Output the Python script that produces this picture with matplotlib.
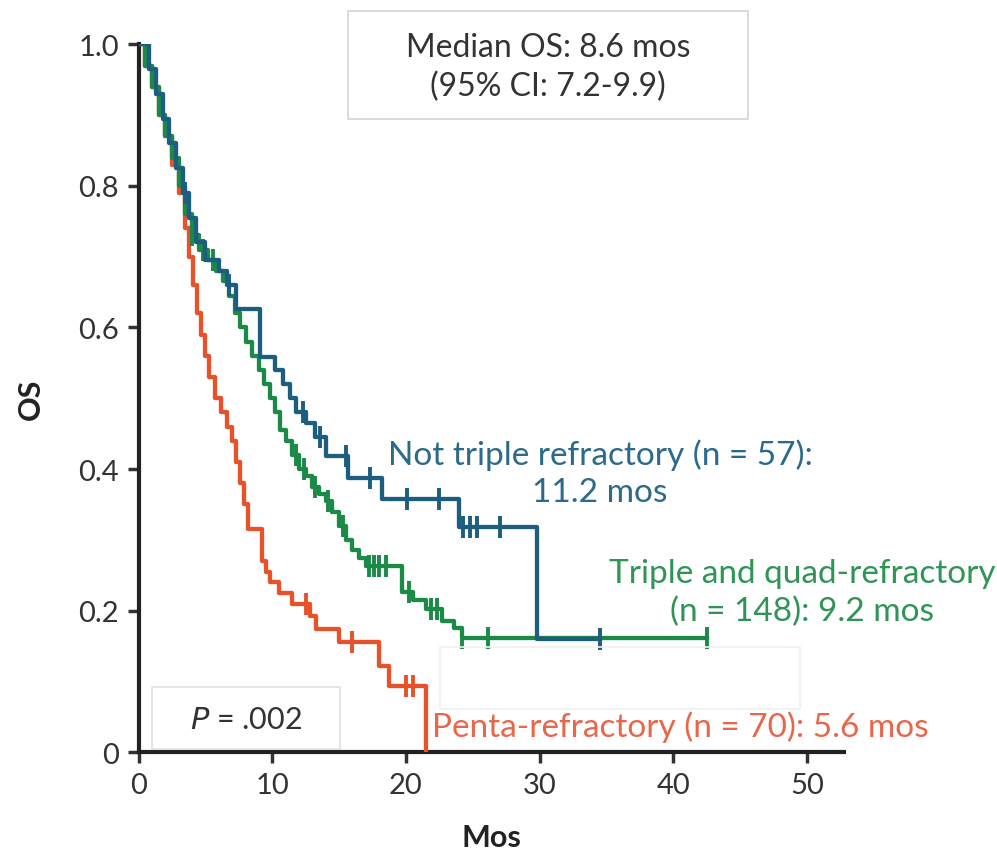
import numpy as np
import matplotlib.pyplot as plt
from matplotlib.patches import Rectangle

plt.rcParams['font.family'] = ['Lato', 'DejaVu Sans']

# Kaplan-Meier steps (months, OS after step)
t_blue = [0, 0.8, 1.3, 1.8, 2.3, 2.8, 3.3, 3.8, 4.3, 5.0, 6.0, 6.6, 7.3, 9.1, 10.2,
          10.8, 11.3, 11.8, 12.5, 13.2, 14.0, 15.7, 18.2, 24.0, 29.8]
s_blue = [1.0, 0.965, 0.93, 0.895, 0.86, 0.825, 0.79, 0.755, 0.72, 0.695, 0.68, 0.66,
          0.626, 0.558, 0.54, 0.52, 0.50, 0.48, 0.465, 0.445, 0.418, 0.388, 0.357, 0.318, 0.16]
end_blue = 34.5
cens_blue = [3.5, 6.8, 12.3, 13.6, 15.5, 17.3, 20.1, 22.5, 24.3, 24.8, 25.3, 27.0, 34.5]

t_green = [0, 0.5, 1.0, 1.5, 2.0, 2.5, 3.0, 3.5, 4.0, 4.5, 5.2, 5.8, 6.3, 6.8, 7.2, 7.6,
           8.0, 8.5, 9.0, 9.4, 9.8, 10.2, 10.6, 11.0, 11.5, 12.0, 12.5, 13.0, 13.5, 14.0,
           14.5, 15.0, 15.5, 16.0, 16.5, 17.0, 19.7, 20.5, 21.5, 22.7, 23.6, 24.2]
s_green = [1.0, 0.97, 0.94, 0.90, 0.87, 0.84, 0.80, 0.76, 0.73, 0.71, 0.695, 0.68, 0.665,
           0.645, 0.62, 0.60, 0.58, 0.56, 0.54, 0.52, 0.50, 0.48, 0.455, 0.44, 0.42, 0.40,
           0.39, 0.375, 0.365, 0.355, 0.34, 0.32, 0.30, 0.285, 0.275, 0.263, 0.226, 0.215,
           0.202, 0.185, 0.175, 0.162]
end_green = 42.5
cens_green = [4.0, 4.8, 5.6, 11.8, 12.4, 13.2, 14.2, 15.3, 17.2, 17.6, 18.0, 18.5,
              20.2, 21.9, 22.3, 24.2, 26.1, 42.5]

t_red = [0, 0.5, 1.0, 1.5, 2.0, 2.5, 3.0, 3.5, 3.8, 4.1, 4.4, 4.7, 5.0, 5.3, 5.7, 6.2,
         6.6, 7.0, 7.3, 7.6, 7.9, 8.2, 9.2, 9.5, 9.8, 10.5, 11.5, 12.8, 13.3, 15.0, 18.0,
         18.7, 21.5]
s_red = [1.0, 0.97, 0.94, 0.90, 0.87, 0.83, 0.79, 0.74, 0.70, 0.66, 0.62, 0.59, 0.56,
         0.53, 0.50, 0.48, 0.46, 0.44, 0.41, 0.38, 0.35, 0.315, 0.27, 0.254, 0.24, 0.225,
         0.21, 0.192, 0.174, 0.155, 0.122, 0.093, 0.0]
end_red = 21.5
cens_red = [12.5, 16.0, 20.0, 20.5]

c_blue = '#1d5e7e'
c_green = '#1b8a47'
c_red = '#e8522a'

fig = plt.figure(figsize=(9.97, 8.54), dpi=100)
ax = fig.add_axes([0.139, 0.118, 0.708, 0.829])


def km(ax, t, s, end, cens, col):
    tt = list(t) + [end]
    ss = list(s) + [s[-1]]
    ax.step(tt, ss, where='post', color=col, lw=3.1, zorder=3)
    ct = np.array(cens)
    idx = np.searchsorted(np.array(t), ct, side='right') - 1
    cs = np.array(s)[idx]
    ax.plot(ct, cs, ls='none', marker='|', ms=16, mew=2.8, color=col, zorder=3)


km(ax, t_red, s_red, end_red, cens_red, c_red)
km(ax, t_green, s_green, end_green, cens_green, c_green)
km(ax, t_blue, s_blue, end_blue, cens_blue, c_blue)

ax.set_xlim(0, 52.8)
ax.set_ylim(0, 1.0)
ax.set_xticks([0, 10, 20, 30, 40, 50])
ax.set_yticks([0, 0.2, 0.4, 0.6, 0.8, 1.0])
ax.set_yticklabels(['0', '0.2', '0.4', '0.6', '0.8', '1.0'])
ax.tick_params(labelsize=21, width=2.5, length=8, colors='#333333', pad=6)
for sp in ['top', 'right']:
    ax.spines[sp].set_visible(False)
for sp in ['left', 'bottom']:
    ax.spines[sp].set_linewidth(3)
    ax.spines[sp].set_color('#222222')
ax.set_xlabel('Mos', fontsize=22, fontweight='bold', labelpad=18, color='#222222')
ax.set_ylabel('OS', fontsize=22, fontweight='bold', labelpad=24, color='#222222')

# annotation boxes
fig.patches.append(Rectangle((348 / 997, 1 - 120 / 854), 400 / 997, 108 / 854,
                             transform=fig.transFigure, fill=False, ec='#d4d4d4', lw=1.2))
fig.text(548 / 997, 1 - 68 / 854, 'Median OS: 8.6 mos\n(95% CI: 7.2-9.9)', ha='center',
         va='center', fontsize=23, color='#333333', linespacing=1.35)

fig.patches.append(Rectangle((152 / 997, 1 - 750 / 854), 188 / 997, 62 / 854,
                             transform=fig.transFigure, fill=False, ec='#e0e0e0', lw=1.2))
fig.text(246 / 997, 1 - 720 / 854, '$\\it{P}$ = .002', ha='center', va='center',
         fontsize=22, color='#333333')

fig.patches.append(Rectangle((440 / 997, 1 - 710 / 854), 360 / 997, 62 / 854,
                             transform=fig.transFigure, fill=False, ec='#f0f0f0', lw=1.2))

fig.text(600 / 997, 1 - 474 / 854, 'Not triple refractory (n = 57):\n11.2 mos',
         ha='center', va='center', fontsize=24, color='#2b6a8a', linespacing=1.3)
fig.text(802 / 997, 1 - 593 / 854, 'Triple and quad-refractory\n(n = 148): 9.2 mos',
         ha='center', va='center', fontsize=24, color='#2f9456', linespacing=1.3)
fig.text(432 / 997, 1 - 727 / 854, 'Penta-refractory (n = 70): 5.6 mos',
         ha='left', va='center', fontsize=24, color='#e8664a')

fig.savefig('out.png', dpi=100)
